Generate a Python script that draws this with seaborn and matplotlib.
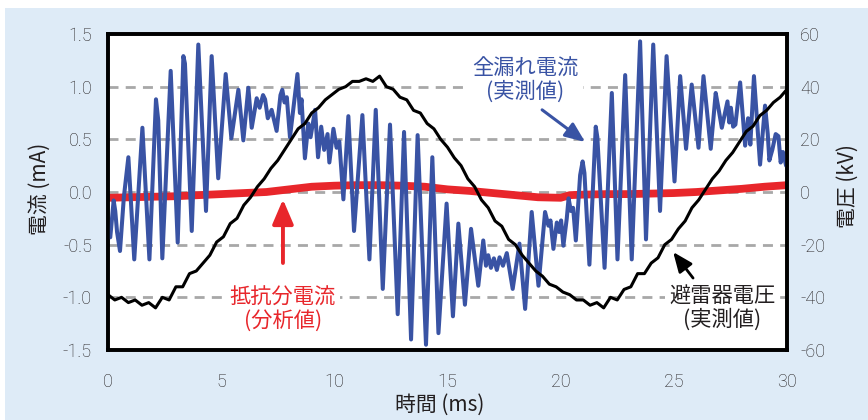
import matplotlib
matplotlib.use("Agg")
import matplotlib.pyplot as plt
from matplotlib.patches import Rectangle
import pandas as pd
import seaborn as sns

# ---- total leakage current, measured (mA) ----
leak_t = [
    0.00, 0.10, 0.25, 0.32, 0.40, 0.53, 0.70, 0.90, 1.16, 1.52,
    1.83, 2.12, 2.22, 2.40, 2.77, 3.08, 3.33, 3.40, 3.70, 3.99,
    4.33, 4.58, 4.87, 5.20, 5.45, 5.76, 5.98, 6.20, 6.35, 6.57,
    6.70, 6.85, 6.94, 7.06, 7.23, 7.45, 7.62, 7.70, 7.80, 7.90,
    8.04, 8.37, 8.48, 8.55, 8.70, 8.85, 8.95, 9.15, 9.28, 9.42,
    9.55, 9.70, 9.78, 9.96, 10.10, 10.22, 10.40, 10.62, 10.87, 11.24,
    11.55, 11.83, 12.14, 12.46, 12.80, 13.08, 13.39, 13.68, 14.05, 14.33,
    14.60, 14.96, 15.24, 15.48, 15.77, 16.04, 16.36, 16.58, 16.70, 16.80,
    16.92, 17.05, 17.18, 17.30, 17.45, 17.62, 17.88, 18.18, 18.43, 18.72,
    19.02, 19.31, 19.46, 19.55, 19.68, 19.83, 19.93, 20.02, 20.12, 20.27,
    20.35, 20.45, 20.55, 20.67, 20.86, 20.97, 21.05, 21.27, 21.55, 21.62,
    21.94, 22.26, 22.51, 22.85, 23.14, 23.51, 23.77, 24.09, 24.39, 24.68,
    25.03, 25.28, 25.54, 25.79, 26.09, 26.31, 26.63, 26.85, 26.95, 27.12,
    27.37, 27.45, 27.52, 27.62, 27.72, 27.93, 28.15, 28.28, 28.38, 28.54,
    28.81, 29.03, 29.15, 29.22, 29.35, 29.50, 29.62, 29.72, 29.82, 29.96,
]
leak_ma = [
    -0.43, -0.43, -0.08, -0.18, -0.38, -0.56, -0.05, 0.33, -0.64, 0.61,
    -0.64, 0.88, 0.68, -0.63, 1.15, -0.48, 1.29, 1.22, -0.37, 1.40,
    -0.18, 1.29, 0.13, 1.12, 0.51, 0.97, 0.49, 0.99, 0.61, 0.89,
    0.80, 0.92, 0.88, 0.70, 0.78, 0.58, 0.92, 0.97, 0.85, 0.90,
    0.52, 1.12, 0.75, 0.88, 0.32, 0.65, 0.52, 0.78, 0.33, 0.62,
    0.40, 0.55, 0.28, 0.60, 0.42, 0.48, -0.07, 0.72, -0.37, 0.73,
    -0.64, 0.78, -0.92, 0.64, -1.16, 0.57, -1.40, 0.54, -1.45, 0.33,
    -1.34, -0.11, -1.18, -0.30, -1.07, -0.35, -0.89, -0.46, -0.70, -0.60,
    -0.72, -0.63, -0.74, -0.62, -0.70, -0.58, -0.92, -0.49, -1.11, -0.19,
    -0.89, -0.19, -0.32, -0.27, -0.54, -0.29, -0.38, -0.27, -0.51, -0.25,
    -0.06, -0.18, -0.15, -0.46, 0.16, 0.29, 0.18, -0.69, 0.62, 0.52,
    -0.72, 0.94, -0.64, 1.11, -0.64, 1.43, -0.45, 1.40, -0.18, 1.29,
    0.10, 1.10, 0.41, 1.02, 0.42, 1.10, 0.41, 0.94, 0.82, 0.61,
    0.86, 0.66, 0.80, 0.62, 0.64, 1.04, 0.44, 0.70, 0.45, 1.10,
    0.26, 0.82, 0.55, 0.30, 0.40, 0.55, 0.53, 0.28, 0.38, 0.25,
]

# ---- resistive current component, analysed (mA) ----
resist_t = [0, 1, 2, 3, 4, 5, 6, 7, 8, 9, 10, 11, 12, 13, 14, 15, 16, 17,
            18, 19, 20, 20.4, 21, 22, 23, 24, 25, 26, 27, 28, 29, 30]
resist_ma = [-0.055, -0.05, -0.045, -0.04, -0.03, -0.02, -0.01, 0.0, 0.025,
             0.05, 0.06, 0.065, 0.065, 0.06, 0.05, 0.025, 0.01, -0.01, -0.03,
             -0.05, -0.055, -0.03, -0.025, -0.02, -0.02, -0.015, -0.01, 0.0,
             0.015, 0.03, 0.05, 0.065]

# ---- arrester voltage, measured (kV) ----
volt_t = [
    0.0, 0.3, 0.6, 0.9, 1.2, 1.5, 1.8, 2.1, 2.4, 2.7,
    3.0, 3.3, 3.6, 3.9, 4.2, 4.5, 4.8, 5.1, 5.4, 5.7,
    6.0, 6.3, 6.6, 6.9, 7.2, 7.5, 7.8, 8.1, 8.4, 8.7,
    9.0, 9.3, 9.6, 9.9, 10.2, 10.5, 10.8, 11.1, 11.4, 11.7,
    12.0, 12.3, 12.6, 12.9, 13.2, 13.5, 13.8, 14.1, 14.4, 14.7,
    15.0, 15.3, 15.6, 15.9, 16.2, 16.5, 16.8, 17.1, 17.4, 17.7,
    18.0, 18.3, 18.6, 18.9, 19.2, 19.5, 19.8, 20.1, 20.4, 20.7,
    21.0, 21.3, 21.6, 21.9, 22.2, 22.5, 22.8, 23.1, 23.4, 23.7,
    24.0, 24.3, 24.6, 24.9, 25.2, 25.5, 25.8, 26.1, 26.4, 26.7,
    27.0, 27.3, 27.6, 27.9, 28.2, 28.5, 28.8, 29.1, 29.4, 29.7,
    30.0,
]
volt_kv = [
    -39, -41, -40, -42, -41, -43, -42, -44, -40, -41,
    -36, -36, -31, -30, -27, -24, -19, -17, -12, -10,
    -5, -2, 2, 5, 9, 12, 16, 20, 24, 26,
    30, 32, 35, 37, 39, 40, 42, 42, 43, 42,
    44, 40, 39, 36, 35, 31, 30, 26, 24, 20,
    17, 13, 10, 5, 2, -3, -6, -11, -13, -18,
    -20, -24, -27, -30, -32, -35, -36, -38, -39, -41,
    -41, -43, -42, -44, -40, -41, -37, -36, -31, -31,
    -27, -25, -20, -18, -14, -11, -6, -3, 1, 5,
    8, 12, 15, 19, 23, 25, 29, 31, 34, 36,
    39,
]

current_ticks = [-1.5, -1.0, -0.5, 0.0, 0.5, 1.0, 1.5]
voltage_ticks = [-60, -40, -20, 0, 20, 40, 60]
time_ticks = [0, 5, 10, 15, 20, 25, 30]

leak_df = pd.DataFrame({"t": leak_t, "i": leak_ma})
resist_df = pd.DataFrame({"t": resist_t, "i": resist_ma})
volt_df = pd.DataFrame({"t": volt_t, "v": volt_kv})

BLUE = "#3953a4"
RED = "#e8262b"
INK = "#231f20"
GRID = "#a8a8a8"
PANEL = "#deebf7"

sns.set_theme(style="white")
JP = "Noto Sans CJK JP"
plt.rcParams["font.family"] = ["Roboto", "Liberation Sans", JP, "DejaVu Sans"]
plt.rcParams["axes.unicode_minus"] = False

fig = plt.figure(figsize=(8.68, 4.2), dpi=100, facecolor="white")
fig.patches.append(Rectangle((5 / 868, 0), 1, 1 - 8 / 420, transform=fig.transFigure,
                             facecolor=PANEL, edgecolor="none", zorder=-5))

ax = fig.add_axes([108 / 868, 70 / 420, 679 / 868, 316 / 420])
ax.set_facecolor("white")

for y in [-1.0, -0.5, 0.0, 0.5, 1.0]:
    ax.axhline(y, color=GRID, lw=2.0, ls=(0, (3.6, 2.6)), zorder=0.5)

sns.lineplot(data=resist_df, x="t", y="i", ax=ax, color=RED, lw=5.6,
             estimator=None, sort=False, zorder=2)
sns.lineplot(data=leak_df, x="t", y="i", ax=ax, color=BLUE, lw=2.9,
             estimator=None, sort=False, zorder=3,
             solid_joinstyle="round", solid_capstyle="round")

ax.set_xlim(0, 30)
ax.set_ylim(-1.5, 1.5)
ax.set_xticks(time_ticks)
ax.set_yticks(current_ticks)
ax.set_yticklabels([f"{v:.1f}" for v in current_ticks])
ax.tick_params(axis="both", length=0, labelsize=13, colors=INK)
ax.tick_params(axis="y", pad=11.5)
ax.tick_params(axis="x", pad=16.5)
for lab in ax.get_xticklabels() + ax.get_yticklabels():
    lab.set_fontweight("light")

ax2 = ax.twinx()
sns.lineplot(data=volt_df, x="t", y="v", ax=ax2, color="black", lw=2.2,
             estimator=None, sort=False, zorder=4,
             solid_joinstyle="round", solid_capstyle="round")
ax2.set_ylim(-60, 60)
ax2.set_yticks(voltage_ticks)
ax2.set_yticklabels([str(v) for v in voltage_ticks])
ax2.tick_params(axis="y", length=0, labelsize=13, colors=INK, pad=9.5)
for lab in ax2.get_yticklabels():
    lab.set_fontweight("light")

for a in (ax, ax2):
    for s in a.spines.values():
        s.set_color("black")
        s.set_linewidth(2.6)
        s.set_visible(True)

ax.set_xlabel("時間 (ms)", fontsize=15, family=[JP], color=INK)
ax.set_ylabel("電流 (mA)", fontsize=15, family=[JP], color=INK)
ax2.set_ylabel("電圧 (kV)", fontsize=15, family=[JP], color=INK, rotation=90)
for lab in (ax.xaxis.label, ax.yaxis.label, ax2.yaxis.label):
    lab.set_ha("center")
    lab.set_va("center")
ax.xaxis.set_label_coords(0.489, -0.172)
ax.yaxis.set_label_coords(-0.101, 0.51)
ax2.yaxis.set_label_coords(1.090, 0.52)

# callouts (positions in current/time units)
box = dict(facecolor="white", edgecolor="none", pad=3)
ax2.text(18.45, 1.06, "全漏れ電流\n(実測値)", transform=ax.transData, ha="center",
         va="center", ma="center", fontsize=15.3, family=[JP], color=BLUE,
         linespacing=1.05, bbox=box, zorder=6)
ax2.annotate("", xy=(21.08, 0.475), xytext=(19.18, 0.78),
             xycoords=ax.transData, textcoords=ax.transData,
             arrowprops=dict(arrowstyle="-|>,head_length=0.6,head_width=0.25",
                             color=BLUE, lw=2.2, mutation_scale=20,
                             shrinkA=0, shrinkB=0), zorder=6)

ax2.text(7.73, -1.11, "抵抗分電流\n(分析値)", transform=ax.transData, ha="center",
         va="center", ma="center", fontsize=15.3, family=[JP], color=RED,
         linespacing=1.05, bbox=box, zorder=6)
ax2.annotate("", xy=(7.73, -0.07), xytext=(7.73, -0.674),
             xycoords=ax.transData, textcoords=ax.transData,
             arrowprops=dict(arrowstyle="-|>,head_length=0.75,head_width=0.32",
                             color=RED, lw=2.8, mutation_scale=20,
                             shrinkA=0, shrinkB=0), zorder=6)

ax2.text(27.13, -1.105, "避雷器電圧\n(実測値)", transform=ax.transData, ha="center",
         va="center", ma="center", fontsize=15.3, family=[JP], color=INK,
         linespacing=1.05, bbox=box, zorder=6)
ax2.annotate("", xy=(24.97, -0.57), xytext=(25.85, -0.817),
             xycoords=ax.transData, textcoords=ax.transData,
             arrowprops=dict(arrowstyle="-|>,head_length=0.6,head_width=0.25",
                             color="black", lw=2.0, mutation_scale=20,
                             shrinkA=0, shrinkB=0), zorder=6)

fig.savefig("out.png", dpi=100, facecolor=fig.get_facecolor())
